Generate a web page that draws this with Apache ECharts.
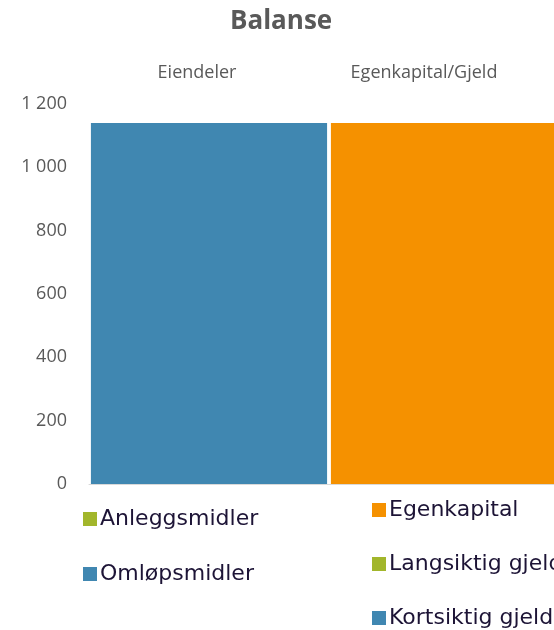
<!DOCTYPE html>
<html><head><meta charset="utf-8">
<script src="https://cdn.jsdelivr.net/npm/echarts@6/dist/echarts.min.js"></script>
<style>html,body{margin:0;padding:0;background:#fff}#c{width:554px;height:630px}</style>
</head><body><div id="c"></div>
<script>
const categories = ['Eiendeler', 'Egenkapital/Gjeld'];
const anleggsmidler = [0, '-'];
const omlopsmidler = [1140, '-'];
const egenkapital = ['-', 1140];
const langsiktigGjeld = ['-', 0];
const kortsiktigGjeld = ['-', 0];
const yTicks = { min: 0, max: 1200, interval: 200 };

const BLUE = '#4087B1', ORANGE = '#F59100', GREEN = '#A2B62B';
const chart = echarts.init(document.getElementById('c'));
const fmt = v => String(v).replace(/\B(?=(\d{3})+(?!\d))/g, ' ');
function bar(name, data, color) {
  return { name, type: 'bar', stack: 'a', data, barCategoryGap: '1.6%',
    itemStyle: { color }, xAxisIndex: 0 };
}
const legendText = { fontFamily: 'DejaVu Sans', fontSize: 22, lineHeight: 20, color: '#1D1436', padding: [0, 0, 0, -2] };
chart.setOption({
  animation: false,
  title: { text: 'Balanse', left: 225, top: 4,
    textStyle: { fontFamily: 'Open Sans', fontWeight: 'bold', fontSize: 26, color: '#595959' } },
  grid: { left: 89, width: 480, top: 104, bottom: 146, containLabel: false, outerBoundsMode: 'none' },
  xAxis: [{
    type: 'category', data: categories, position: 'top',
    axisLine: { show: false }, axisTick: { show: false },
    axisLabel: { margin: 22,
      formatter: (v, i) => i === 0 ? '{a|' + v + '}' : '{b|' + v + '}',
      rich: { a: { fontFamily: 'Open Sans', fontSize: 18, color: '#595959', padding: [0, 24, 0, 0] },
              b: { fontFamily: 'Open Sans', fontSize: 18, color: '#595959', padding: [0, 50, 0, 0] } } }
  }, {
    type: 'category', data: categories, position: 'bottom',
    axisLine: { show: true, lineStyle: { color: '#D9D9D9', width: 1 } },
    axisTick: { show: false }, axisLabel: { show: false }
  }],
  yAxis: {
    type: 'value', min: yTicks.min, max: yTicks.max, interval: yTicks.interval,
    splitLine: { show: false }, axisLine: { show: false }, axisTick: { show: false },
    axisLabel: { margin: 22, fontFamily: 'Open Sans', fontSize: 18, color: '#595959', formatter: fmt }
  },
  legend: [{
    data: ['Anleggsmidler', 'Omløpsmidler'], orient: 'vertical', left: 83, top: 508, padding: 0,
    itemWidth: 14, itemHeight: 14, itemGap: 33, icon: 'rect', textStyle: legendText
  }, {
    data: ['Egenkapital', 'Langsiktig gjeld', 'Kortsiktig gjeld'], orient: 'vertical', left: 372, top: 499, padding: 0,
    itemWidth: 14, itemHeight: 14, itemGap: 32, icon: 'rect', textStyle: legendText
  }],
  series: [
    bar('Anleggsmidler', anleggsmidler, GREEN),
    bar('Omløpsmidler', omlopsmidler, BLUE),
    bar('Egenkapital', egenkapital, ORANGE),
    bar('Langsiktig gjeld', langsiktigGjeld, GREEN),
    bar('Kortsiktig gjeld', kortsiktigGjeld, BLUE)
  ]
});
</script></body></html>
